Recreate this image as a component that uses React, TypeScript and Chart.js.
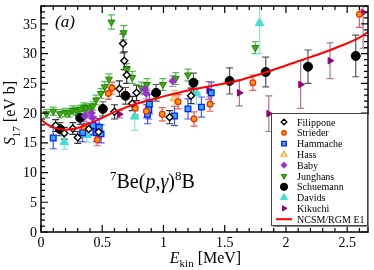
import React, { useEffect, useRef } from 'react';
import { Chart, registerables } from 'chart.js';
Chart.register(...registerables);

const X_MIN = 0;
const X_MAX = 2.67;
const Y_MIN = 0;
const Y_MAX = 38;
const xMajorTicks = [0, 0.5, 1, 1.5, 2, 2.5];
const xTickLabels = ['0', '0.5', '1', '1.5', '2', '2.5'];
const yMajorTicks = [0, 5, 10, 15, 20, 25, 30, 35];
const yTickLabels = ['0', '5', '10', '15', '20', '25', '30', '35'];

// Filippone
const filipponeE = [0.12, 0.19, 0.26, 0.30, 0.39, 0.47, 0.60, 0.64, 0.67, 0.68, 0.70, 0.745, 0.78, 1.05, 1.225];
const filipponeS = [17.9, 16.6, 17.4, 15.9, 17.3, 16.8, 20.2, 24.1, 31.7, 28.8, 26.4, 21.6, 23.4, 19.3, 22.9];
const filipponeErr = [1.0, 1.0, 1.0, 1.0, 1.0, 1.0, 1.2, 1.3, 1.6, 1.5, 1.4, 1.2, 1.3, 1.1, 1.3];
// Strieder
const striederE = [0.35, 0.46, 0.55, 0.58, 0.77, 0.86, 0.99, 1.12, 1.25, 1.38, 1.73, 2.6];
const striederS = [17.6, 15.5, 23.3, 24.2, 20.8, 20.3, 19.8, 21.9, 19.0, 21.5, 25.1, 36.6];
const striederErr = [1.0, 1.0, 1.0, 1.0, 1.1, 1.1, 1.1, 1.2, 1.2, 1.2, 1.3, 2.2];
// Hammache
const hammacheE = [0.10, 0.34, 0.425, 0.45, 0.475, 0.49, 0.87, 0.88, 0.885, 1.09, 1.2, 1.31, 1.39];
const hammacheS = [15.8, 16.7, 17.9, 16.7, 17.6, 16.5, 19.8, 20.6, 21.5, 19.5, 20.7, 21.0, 23.4];
const hammacheErr = [1.8, 1.5, 1.5, 1.5, 1.5, 1.5, 1.6, 1.6, 1.6, 1.6, 1.7, 1.7, 1.8];
// Hass
const hassE = [1.09];
const hassS = [22.5];
const hassErr = [1.3];
// Baby
const babyE = [0.36, 0.41, 0.42, 0.845, 0.86, 1.075];
const babyS = [19.5, 20.0, 19.2, 24.0, 23.3, 25.4];
const babyErr = [0.9, 0.9, 0.9, 0.9, 0.9, 0.9];
// Junghans
const junghansE = [0.045, 0.10, 0.155, 0.20, 0.23, 0.26, 0.29, 0.32, 0.35, 0.37, 0.40, 0.425, 0.45, 0.49, 0.52, 0.555, 0.575, 0.675, 0.70, 0.745, 0.82, 0.865, 0.995, 1.1, 1.2, 1.75];
const junghansS = [19.9, 20.3, 19.9, 20.1, 20.0, 20.5, 20.3, 20.6, 21.0, 20.8, 20.9, 21.2, 22.2, 23.3, 24.4, 25.7, 35.3, 33.5, 27.3, 26.0, 24.2, 24.8, 24.8, 25.8, 26.4, 31.0];
const junghansErr = [0.7, 0.7, 0.7, 0.7, 0.7, 0.7, 0.7, 0.7, 0.7, 0.7, 0.7, 0.7, 0.8, 0.8, 0.9, 0.9, 1.2, 1.2, 1.0, 1.0, 1.0, 1.0, 1.0, 1.0, 1.0, 1.0];
// Schuemann
const schuemannE = [0.155, 0.32, 0.505, 0.69, 0.94, 1.245, 1.54, 1.835, 2.18, 2.57];
const schuemannS = [17.3, 19.2, 20.7, 22.9, 23.4, 25.1, 25.4, 26.9, 27.8, 29.6];
const schuemannErr = [1.1, 1.1, 1.2, 1.4, 1.4, 1.6, 2.2, 2.5, 2.8, 3.5];
// Davids
const davidsE = [0.19, 0.375, 0.765, 1.27, 1.785];
const davidsS = [15.1, 16.3, 19.4, 23.4, 35.1];
const davidsErr = [1.2, 1.2, 2.3, 2.0, 5.1];
// Kikuchi
const kikuchiE = [0.64, 1.37, 1.62, 1.86, 2.12, 2.36, 2.63];
const kikuchiS = [19.8, 23.8, 23.4, 19.9, 24.8, 28.8, 36.9];
const kikuchiErr = [0.6, 1.5, 2.2, 3.0, 4.0, 3.0, 6.0];
// NCSM/RGM E1 theory curve
const curveE = [0, 0.05, 0.1, 0.15, 0.2, 0.3, 0.4, 0.5, 0.6, 0.7, 0.8, 1.0, 1.2, 1.4, 1.6, 1.8, 2.0, 2.2, 2.4, 2.6, 2.67];
const curveS = [18.9, 18.1, 17.6, 17.3, 17.2, 17.5, 18.3, 19.2, 20.2, 21.0, 21.7, 22.8, 23.8, 24.6, 25.4, 26.6, 28.0, 29.4, 30.9, 32.7, 33.6];

const FONT = '"Liberation Serif", "DejaVu Serif", serif';

type Series = {
  label: string; E: number[]; S: number[]; err: number[];
  style: string; rot: number; r: number; fill: string; stroke: string; bw: number; errColor: string;
};

const series: Series[] = [
  { label: 'Filippone', E: filipponeE, S: filipponeS, err: filipponeErr, style: 'rectRot', rot: 0, r: 3.5, fill: '#ffffff', stroke: '#000000', bw: 1.4, errColor: '#333333' },
  { label: 'Strieder', E: striederE, S: striederS, err: striederErr, style: 'circle', rot: 0, r: 2.8, fill: '#ffaa00', stroke: '#ff2200', bw: 1.3, errColor: '#ff5555' },
  { label: 'Hammache', E: hammacheE, S: hammacheS, err: hammacheErr, style: 'rect', rot: 0, r: 4, fill: '#33aaff', stroke: '#0022ff', bw: 1.3, errColor: '#4455ff' },
  { label: 'Hass', E: hassE, S: hassS, err: hassErr, style: 'triangle', rot: 0, r: 4.2, fill: 'rgba(255,220,160,0.4)', stroke: '#ffaa33', bw: 1.3, errColor: '#ffbb66' },
  { label: 'Baby', E: babyE, S: babyS, err: babyErr, style: 'rectRot', rot: 0, r: 3.8, fill: '#9933cc', stroke: '#9933cc', bw: 1, errColor: '#bb88dd' },
  { label: 'Junghans', E: junghansE, S: junghansS, err: junghansErr, style: 'triangle', rot: 180, r: 4, fill: '#44aa11', stroke: '#1a8800', bw: 1, errColor: '#55bb55' },
  { label: 'Schuemann', E: schuemannE, S: schuemannS, err: schuemannErr, style: 'circle', rot: 0, r: 4.5, fill: '#000000', stroke: '#000000', bw: 1, errColor: '#555555' },
  { label: 'Davids', E: davidsE, S: davidsS, err: davidsErr, style: 'triangle', rot: 0, r: 5, fill: '#40e0d0', stroke: '#40e0d0', bw: 1, errColor: '#80e8e0' },
  { label: 'Kikuchi', E: kikuchiE, S: kikuchiS, err: kikuchiErr, style: 'triangle', rot: 90, r: 3.8, fill: '#990077', stroke: '#990077', bw: 1, errColor: '#aa7799' },
];

function shapePath(ctx: CanvasRenderingContext2D, style: string, rot: number, r: number, x: number, y: number) {
  ctx.beginPath();
  if (style === 'circle') {
    ctx.arc(x, y, r, 0, Math.PI * 2);
  } else if (style === 'rect') {
    const s = r * Math.SQRT1_2;
    ctx.rect(x - s, y - s, 2 * s, 2 * s);
  } else if (style === 'rectRot') {
    ctx.moveTo(x, y - r); ctx.lineTo(x + r, y); ctx.lineTo(x, y + r); ctx.lineTo(x - r, y);
  } else if (style === 'triangle') {
    const a0 = (rot * Math.PI) / 180;
    for (let k = 0; k < 3; k++) {
      const a = a0 - Math.PI / 2 + (k * 2 * Math.PI) / 3;
      const px = x + Math.cos(a) * r;
      const py = y + Math.sin(a) * r;
      if (k === 0) ctx.moveTo(px, py); else ctx.lineTo(px, py);
    }
  }
  ctx.closePath();
}

const errorBarPlugin = {
  id: 'errorBars',
  beforeDatasetsDraw(chart: any) {
    const { ctx, chartArea, scales } = chart;
    const xs = scales.x, ys = scales.y;
    ctx.save();
    ctx.beginPath();
    ctx.rect(chartArea.left, chartArea.top, chartArea.right - chartArea.left, chartArea.bottom - chartArea.top);
    ctx.clip();
    ctx.lineWidth = 1.2;
    series.forEach((s) => {
      ctx.strokeStyle = s.errColor;
      s.E.forEach((e, i) => {
        const x = xs.getPixelForValue(e);
        const y1 = ys.getPixelForValue(s.S[i] - s.err[i]);
        const y2 = ys.getPixelForValue(s.S[i] + s.err[i]);
        ctx.beginPath();
        ctx.moveTo(x, y1); ctx.lineTo(x, y2);
        ctx.moveTo(x - 3.5, y1); ctx.lineTo(x + 3.5, y1);
        ctx.moveTo(x - 3.5, y2); ctx.lineTo(x + 3.5, y2);
        ctx.stroke();
      });
    });
    ctx.restore();
  },
};

const framePlugin = {
  id: 'frameAndText',
  afterDraw(chart: any) {
    const { ctx, chartArea, scales } = chart;
    const xs = scales.x, ys = scales.y;
    const { left, right, top, bottom } = chartArea;
    ctx.save();
    ctx.strokeStyle = '#000';
    ctx.lineWidth = 1.5;
    ctx.strokeRect(left, top, right - left, bottom - top);
    ctx.lineWidth = 1.2;
    for (let v = 0; v <= X_MAX + 1e-9; v += 0.1) {
      const vv = Math.round(v * 10) / 10;
      const major = Math.abs(vv * 2 - Math.round(vv * 2)) < 1e-6;
      const len = major ? 7 : 4;
      const x = xs.getPixelForValue(vv);
      ctx.beginPath();
      ctx.moveTo(x, bottom); ctx.lineTo(x, bottom - len);
      ctx.moveTo(x, top); ctx.lineTo(x, top + len);
      ctx.stroke();
    }
    for (let v = 0; v <= Y_MAX; v += 1) {
      const major = v % 5 === 0;
      const len = major ? 7 : 4;
      const y = ys.getPixelForValue(v);
      ctx.beginPath();
      ctx.moveTo(left, y); ctx.lineTo(left + len, y);
      ctx.moveTo(right, y); ctx.lineTo(right - len, y);
      ctx.stroke();
    }
    ctx.fillStyle = '#000';
    ctx.font = `14px ${FONT}`;
    ctx.textAlign = 'center';
    ctx.textBaseline = 'alphabetic';
    xMajorTicks.forEach((v, i) => {
      ctx.fillText(xTickLabels[i], xs.getPixelForValue(v), bottom + 15);
    });
    ctx.textAlign = 'right';
    ctx.textBaseline = 'middle';
    yMajorTicks.forEach((v, i) => {
      ctx.fillText(yTickLabels[i], left - 4, ys.getPixelForValue(v) + 1);
    });

    ctx.textBaseline = 'alphabetic';
    ctx.textAlign = 'left';
    const fMain = `16px ${FONT}`;
    const fIt = `italic 16px ${FONT}`;
    const fSub = `11px ${FONT}`;
    ctx.font = fIt; const wE = ctx.measureText('E').width;
    ctx.font = fSub; const wK = ctx.measureText('kin').width;
    ctx.font = fMain; const wM = ctx.measureText(' [MeV]').width;
    let xStart = (left + right) / 2 - (wE + wK + wM) / 2 + 1;
    const base = 263;
    ctx.font = fIt; ctx.fillText('E', xStart, base); xStart += wE;
    ctx.font = fSub; ctx.fillText('kin', xStart, base + 4); xStart += wK;
    ctx.font = fMain; ctx.fillText(' [MeV]', xStart, base);

    ctx.save();
    ctx.translate(15, (top + bottom) / 2 - 6);
    ctx.rotate(-Math.PI / 2);
    ctx.font = fIt; const wS = ctx.measureText('S').width;
    ctx.font = fSub; const w17 = ctx.measureText('17').width;
    ctx.font = fMain; const wU = ctx.measureText(' [eV b]').width;
    let p = -(wS + w17 + wU) / 2;
    ctx.font = fIt; ctx.fillText('S', p, 0); p += wS;
    ctx.font = fSub; ctx.fillText('17', p, 5); p += w17;
    ctx.font = fMain; ctx.fillText(' [eV b]', p, 0);
    ctx.restore();

    ctx.font = `italic 17px ${FONT}`;
    ctx.textAlign = 'left';
    ctx.fillText('(a)', 55, 27);

    const fBig = `20px ${FONT}`;
    const fBigIt = `italic 20px ${FONT}`;
    const fSup = `13px ${FONT}`;
    const parts: [string, string, number][] = [
      ['7', fSup, -8], ['Be(', fBig, 0], ['p', fBigIt, 0], [',', fBig, 0], ['γ', fBigIt, 0], [')', fBig, 0], ['8', fSup, -8], ['B', fBig, 0],
    ];
    let px = 110;
    const py = 188;
    parts.forEach(([t, f, dy]) => {
      ctx.font = f;
      ctx.fillText(t, px, py + dy);
      px += ctx.measureText(t).width;
    });

    const lx = 271, ly = 113, lw = 96, lh = 112;
    ctx.fillStyle = '#888';
    ctx.fillRect(lx + 2, ly + 2, lw, lh);
    ctx.fillStyle = '#fff';
    ctx.fillRect(lx, ly, lw, lh);
    ctx.strokeStyle = '#444';
    ctx.lineWidth = 1;
    ctx.strokeRect(lx + 0.5, ly + 0.5, lw, lh);
    ctx.font = `10px ${FONT}`;
    ctx.textBaseline = 'middle';
    const step = 10.8;
    series.forEach((s, i) => {
      const y = 122 + i * step;
      ctx.fillStyle = s.fill;
      ctx.strokeStyle = s.stroke;
      ctx.lineWidth = s.bw;
      shapePath(ctx, s.style, s.rot, s.r * 0.8, 284, y);
      ctx.fill();
      ctx.stroke();
      ctx.fillStyle = '#000';
      ctx.fillText(s.label, 297, y + 1);
    });
    const yl = 122 + series.length * step;
    ctx.strokeStyle = '#ff0000';
    ctx.lineWidth = 2;
    ctx.beginPath(); ctx.moveTo(276, yl); ctx.lineTo(292, yl); ctx.stroke();
    ctx.fillStyle = '#000';
    ctx.fillText('NCSM/RGM E1', 297, yl + 1);
    ctx.restore();
  },
};

export default function App() {
  const ref = useRef<HTMLCanvasElement | null>(null);
  useEffect(() => {
    if (!ref.current) return;
    const datasets: any[] = [
      {
        type: 'line',
        label: 'NCSM/RGM E1',
        data: curveE.map((e, i) => ({ x: e, y: curveS[i] })),
        borderColor: '#ff0000',
        borderWidth: 2,
        pointRadius: 0,
        tension: 0.4,
        cubicInterpolationMode: 'monotone',
        fill: false,
        order: -1,
      },
      ...series.map((s) => ({
        type: 'scatter',
        label: s.label,
        data: s.E.map((e, i) => ({ x: e, y: s.S[i] })),
        pointStyle: s.style,
        rotation: s.rot,
        pointRotation: s.rot,
        pointRadius: s.r,
        backgroundColor: s.fill,
        borderColor: s.stroke,
        borderWidth: s.bw,
      })),
    ];
    const chart = new Chart(ref.current, {
      type: 'scatter',
      data: { datasets },
      options: {
        responsive: false,
        animation: false,
        devicePixelRatio: 1,
        layout: { padding: { left: 41, right: 3, top: 2, bottom: 38 } },
        scales: {
          x: { type: 'linear', min: X_MIN, max: X_MAX, display: false },
          y: { type: 'linear', min: Y_MIN, max: Y_MAX, display: false },
        },
        plugins: { legend: { display: false }, tooltip: { enabled: false } },
      },
      plugins: [errorBarPlugin, framePlugin],
    } as any);
    return () => chart.destroy();
  }, []);
  return (
    <div style={{ position: 'absolute', left: 0, top: 0, width: 374, height: 270, background: '#fff' }}>
      <canvas ref={ref} width={374} height={270} style={{ display: 'block', width: 374, height: 270 }} />
    </div>
  );
}
